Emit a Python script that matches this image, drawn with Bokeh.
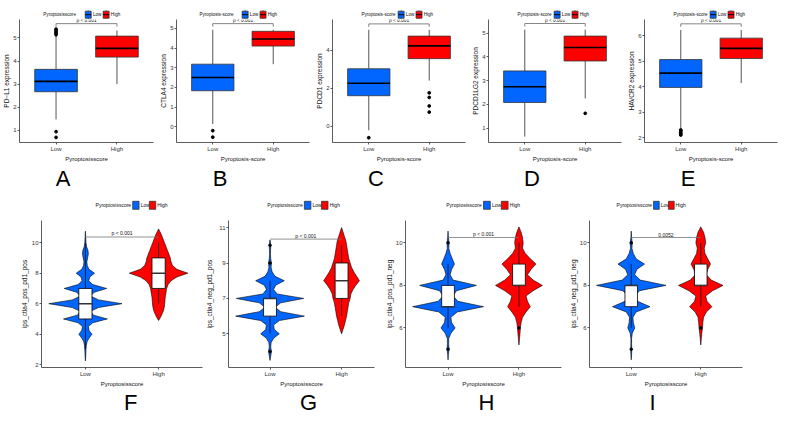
from bokeh.plotting import figure
from bokeh.layouts import row, column
from bokeh.models import FixedTicker, Range1d
from bokeh.core.properties import value
from bokeh.embed import file_html
from bokeh.resources import INLINE

FONT = "Liberation Sans"
BLUE = "#0066FF"
RED = "#FF0000"
GROUPS = ["Low", "High"]
GROUP_X = [1, 2]

# ---------------- top row: boxplots ----------------
BOX_LETTERS = ["A", "B", "C", "D", "E"]
BOX_YLABELS = ["PD\u2212L1 expression", "CTLA4 expression", "PDCD1 expression",
               "PDCD1LG2 expression", "HAVCR2 expression"]
BOX_XLABELS = ["Pyroptosisscore", "Pyroptosis-score", "Pyroptosis-score",
               "Pyroptosis-score", "Pyroptosis-score"]
BOX_YRANGES = [(0.47, 5.8), (-0.8, 5.45), (-0.84, 5.6), (0.39, 5.58), (1.81, 6.63)]
BOX_YTICKS = [[1, 2, 3, 4, 5], [0, 1, 2, 3, 4, 5], [0, 2, 4], [1, 2, 3, 4, 5], [2, 3, 4, 5, 6]]
BOX_PVALS = ["p < 0.001", "p < 0.001", "p < 0.001", "p < 0.001", "p < 0.001"]
BOX_BRACKET_Y = [5.62, 5.24, 5.37, 5.41, 6.46]
# whisker low, q1, median, q3, whisker high
BOX_LOW = [[1.47, 2.67, 3.12, 3.64, 5.10],
           [0.14, 1.83, 2.50, 3.18, 4.93],
           [-0.20, 1.61, 2.26, 3.02, 5.06],
           [0.64, 2.08, 2.74, 3.41, 5.15],
           [2.35, 3.97, 4.53, 5.06, 6.22]]
BOX_HIGH = [[3.00, 4.17, 4.55, 5.08, 5.32],
            [3.18, 4.10, 4.46, 4.85, 4.93],
            [2.40, 3.55, 4.22, 4.73, 5.06],
            [2.25, 3.83, 4.40, 4.88, 5.15],
            [4.14, 5.10, 5.50, 5.90, 6.22]]
BOX_LOW_OUT = [[0.69, 0.94, 5.14, 5.20, 5.26, 5.32, 5.38],
               [-0.20, -0.53],
               [-0.59],
               [],
               [2.10, 2.15, 2.20, 2.26, 2.30]]
BOX_HIGH_OUT = [[], [], [1.76, 1.52, 1.07, 0.75], [1.62], []]

# ---------------- bottom row: violins ----------------
VIO_LETTERS = ["F", "G", "H", "I"]
VIO_YLABELS = ["ips_ctla4_pos_pd1_pos", "ips_ctla4_neg_pd1_pos",
               "ips_ctla4_pos_pd1_neg", "ips_ctla4_neg_pd1_neg"]
VIO_XLABEL = "Pyroptosisscore"
VIO_YRANGES = [(1.82, 11.45), (3.1, 11.4), (4.14, 11.05), (4.14, 11.05)]
VIO_YTICKS = [[2, 4, 6, 8, 10], [5, 7, 9, 11], [6, 8, 10], [6, 8, 10]]
VIO_PVALS = ["p < 0.001", "p < 0.001", "p < 0.001", "0.0052"]
VIO_BRACKET_Y = [10.37, 10.35, 10.25, 10.25]

# violin density profiles (y level, half width)
F_LOW_Y = [2.25, 2.5, 3.0, 3.25, 3.5, 3.75, 4.0, 4.25, 4.5, 4.75, 5.0, 5.25, 5.5, 5.75, 6.0, 6.25, 6.5,
           6.75, 7.0, 7.25, 7.5, 7.75, 8.0, 8.25, 8.5, 8.75, 9.0, 9.25, 9.5, 9.75, 10.0, 10.4, 10.75]
F_LOW_W = [0, 0.004, 0.008, 0.012, 0.022, 0.05, 0.09, 0.05, 0.04, 0.1, 0.3, 0.11, 0.07, 0.18, 0.5, 0.18,
           0.07, 0.12, 0.29, 0.1, 0.045, 0.06, 0.125, 0.05, 0.025, 0.02, 0.03, 0.04, 0.035, 0.015, 0.008,
           0.004, 0]
F_HIGH_Y = [4.9, 5.1, 5.35, 5.6, 5.85, 6.1, 6.4, 6.7, 7.0, 7.25, 7.5, 7.75, 8.0, 8.25, 8.5, 8.75, 9.0,
            9.25, 9.5, 9.75, 10.0, 10.25, 10.5, 10.75, 10.9]
F_HIGH_W = [0, 0.025, 0.05, 0.07, 0.08, 0.085, 0.09, 0.1, 0.11, 0.13, 0.17, 0.25, 0.4, 0.25, 0.19, 0.17,
            0.16, 0.14, 0.12, 0.1, 0.08, 0.06, 0.04, 0.015, 0]
G_LOW_Y = [3.5, 3.75, 4.0, 4.25, 4.5, 4.75, 5.0, 5.25, 5.5, 5.75, 6.0, 6.25, 6.5, 6.75, 7.0, 7.25, 7.5,
           7.75, 8.0, 8.25, 8.5, 8.75, 9.0, 9.25, 9.5, 9.75, 10.0, 10.3]
G_LOW_W = [0, 0.01, 0.02, 0.01, 0.015, 0.05, 0.13, 0.06, 0.05, 0.13, 0.48, 0.15, 0.07, 0.15, 0.47, 0.1,
           0.05, 0.08, 0.2, 0.07, 0.03, 0.015, 0.02, 0.01, 0.006, 0.008, 0.012, 0]
G_HIGH_Y = [5.0, 5.25, 5.5, 5.75, 6.0, 6.25, 6.5, 6.75, 7.0, 7.25, 7.5, 7.75, 8.0, 8.25, 8.5, 8.75, 9.0,
            9.25, 9.5, 9.75, 10.0, 10.25, 10.5, 10.75, 11.0]
G_HIGH_W = [0, 0.02, 0.04, 0.055, 0.07, 0.08, 0.09, 0.1, 0.12, 0.13, 0.16, 0.2, 0.25, 0.21, 0.17, 0.14,
            0.12, 0.1, 0.09, 0.08, 0.07, 0.06, 0.04, 0.02, 0]
H_LOW_Y = [4.5, 4.75, 5.0, 5.25, 5.5, 5.75, 6.0, 6.25, 6.5, 6.75, 7.0, 7.25, 7.5, 7.75, 8.0, 8.25, 8.5,
           8.75, 9.0, 9.25, 9.5, 9.75, 10.0, 10.25, 10.55]
H_LOW_W = [0, 0.005, 0.015, 0.008, 0.01, 0.04, 0.1, 0.05, 0.04, 0.13, 0.5, 0.14, 0.07, 0.12, 0.4, 0.07,
           0.03, 0.05, 0.09, 0.06, 0.03, 0.01, 0.015, 0.005, 0]
H_HIGH_Y = [5.2, 5.5, 5.75, 6.0, 6.25, 6.5, 6.75, 7.0, 7.25, 7.5, 7.75, 8.0, 8.25, 8.5, 8.75, 9.0, 9.25,
            9.5, 9.75, 10.0, 10.25, 10.5, 10.75]
H_HIGH_W = [0, 0.008, 0.015, 0.02, 0.03, 0.05, 0.1, 0.16, 0.12, 0.1, 0.2, 0.33, 0.2, 0.12, 0.17, 0.24,
            0.16, 0.09, 0.05, 0.06, 0.05, 0.03, 0]
I_LOW_Y = [4.5, 4.75, 5.0, 5.25, 5.5, 5.75, 6.0, 6.25, 6.5, 6.75, 7.0, 7.25, 7.5, 7.75, 8.0, 8.25, 8.5,
           8.75, 9.0, 9.25, 9.5, 9.75, 10.0, 10.25, 10.55]
I_LOW_W = [0, 0.005, 0.008, 0.005, 0.005, 0.015, 0.05, 0.03, 0.025, 0.07, 0.27, 0.09, 0.05, 0.12, 0.5,
           0.13, 0.05, 0.08, 0.19, 0.07, 0.03, 0.01, 0.015, 0.005, 0]
I_HIGH_Y = [5.2, 5.5, 5.75, 6.0, 6.25, 6.5, 6.75, 7.0, 7.25, 7.5, 7.75, 8.0, 8.25, 8.5, 8.75, 9.0, 9.25,
            9.5, 9.75, 10.0, 10.25, 10.5, 10.75]
I_HIGH_W = [0, 0.008, 0.015, 0.025, 0.03, 0.04, 0.08, 0.16, 0.09, 0.07, 0.17, 0.32, 0.15, 0.08, 0.1,
            0.14, 0.1, 0.06, 0.05, 0.07, 0.06, 0.04, 0]

VIO_PROFILES = [((F_LOW_Y, F_LOW_W), (F_HIGH_Y, F_HIGH_W)),
                ((G_LOW_Y, G_LOW_W), (G_HIGH_Y, G_HIGH_W)),
                ((H_LOW_Y, H_LOW_W), (H_HIGH_Y, H_HIGH_W)),
                ((I_LOW_Y, I_LOW_W), (I_HIGH_Y, I_HIGH_W))]
# inner boxplot: whisker low, q1, median, q3, whisker high
VIO_BOX_LOW = [[3, 5, 6, 7, 10], [5, 6, 7, 7, 8], [6, 7, 7, 8, 9], [6, 7, 8, 8, 9]]
VIO_BOX_HIGH = [[6, 7, 8, 9, 10], [6, 7, 8, 9, 10], [7, 8, 8, 9, 10], [7, 8, 8, 9, 10]]
VIO_OUT_LOW = [[], [4, 9, 10], [5, 10], [5, 10]]
VIO_OUT_HIGH = [[], [], [6], [6]]

# ---------------- layout constants (pixels) ----------------
TOP_W = [157, 156, 156, 156, 156]
TOP_LEG_H, TOP_MAIN_H, TOP_LET_H = 19, 145, 26
TOP_LEFT, TOP_RIGHT, TOP_BOTTOM = 13, 4, 21
TOP_XR = (0.4, 2.6)
TOP_TITLE_CX = [34, 34, 41, 41, 41]
TOP_LEG = dict(key_x=[64, 85], cy=14.2, key=7, font="4.6px")
TOP_LETTER = dict(x=38, cy=13.5)

BOT_W = [203, 179, 184, 215]
BOT_LEG_H, BOT_MAIN_H, BOT_LET_H = 30, 169, 25
BOT_LEFT = [41, 19, 18, 16]
BOT_RIGHT = [1, 8, 5, 39]
BOT_BOTTOM = 18
BOT_XR = [(0.4, 2.6), (0.42, 2.46), (0.4, 2.6), (0.4, 2.6)]
BOT_YLAB_STANDOFF = [1, 3, 0, 0]
BOT_LEG = dict(key_x=[74, 95], cy=14.8, key=8, font="5px")
BOT_LETTER_X = [71.5, 79, 77.4, 72.5]
BOT_LETTER_CY = 12.5


def strip(width, height):
    p = figure(width=width, height=height, x_range=Range1d(0, width), y_range=Range1d(0, height),
               x_axis_type=None, y_axis_type=None, output_backend="svg", toolbar_location=None,
               min_border=0)
    p.outline_line_color = None
    p.background_fill_color = "white"
    p.border_fill_color = "white"
    return p


def style_axes(p, xlabel, ylabel, yticks, ylab_standoff):
    p.outline_line_color = None
    p.xgrid.visible = False
    p.ygrid.visible = False
    p.background_fill_color = "white"
    p.border_fill_color = "white"
    p.xaxis.ticker = FixedTicker(ticks=GROUP_X)
    p.xaxis.major_label_overrides = {gx: g for gx, g in zip(GROUP_X, GROUPS)}
    p.yaxis.ticker = FixedTicker(ticks=yticks)
    p.xaxis.axis_label = xlabel
    p.yaxis.axis_label = ylabel
    for ax in (p.xaxis[0], p.yaxis[0]):
        ax.axis_line_color = "#333333"
        ax.axis_line_width = 0.8
        ax.major_tick_line_color = "#333333"
        ax.major_tick_line_width = 0.8
        ax.major_tick_out = 2
        ax.major_tick_in = 0
        ax.minor_tick_line_color = None
        ax.major_label_text_font = FONT
        ax.major_label_text_font_size = "6px"
        ax.major_label_text_color = "#333333"
        ax.major_label_standoff = 1
        ax.axis_label_text_font = FONT
        ax.axis_label_text_font_style = "normal"
        ax.axis_label_text_color = "#111111"
        ax.axis_label_standoff = 1
    p.xaxis.axis_label_text_font_size = "6px"
    p.yaxis.axis_label_text_font_size = "6.5px"
    p.yaxis.axis_label_standoff = ylab_standoff


def legend_strip(width, height, left, title, title_x, title_align, spec, boxkey):
    p = strip(width, height)
    cy = height - spec["cy"]
    k = spec["key"]
    p.text(x=[left + title_x], y=[cy], text=[title], text_font=value(FONT),
           text_font_size=spec["font"], text_baseline="middle", text_align=title_align,
           text_color="#111111")
    for g, kx, col in zip(GROUPS, spec["key_x"], [BLUE, RED]):
        x0 = left + kx
        if boxkey:
            p.segment(x0=[x0 + k / 2], x1=[x0 + k / 2], y0=[cy - k / 2 - 1], y1=[cy + k / 2 + 1],
                      line_color="#555555", line_width=0.8)
        p.rect(x=[x0 + k / 2], y=[cy], width=k, height=k, fill_color=col,
               line_color="#333333", line_width=0.8)
        if boxkey:
            p.segment(x0=[x0], x1=[x0 + k], y0=[cy], y1=[cy], line_color="black", line_width=1)
        p.text(x=[x0 + k + 2], y=[cy], text=[g], text_font=value(FONT),
               text_font_size=spec["font"], text_baseline="middle", text_align="left",
               text_color="#111111")
    return p


def letter_strip(width, height, letter, x, cy):
    p = strip(width, height)
    p.text(x=[x], y=[height - cy], text=[letter], text_font=value(FONT), text_font_size="22px",
           text_baseline="middle", text_align="center", text_color="black")
    return p


def box_panel(i):
    w = TOP_W[i]
    fh = TOP_MAIN_H - TOP_BOTTOM
    p = figure(width=w, height=TOP_MAIN_H, x_range=Range1d(*TOP_XR),
               y_range=Range1d(*BOX_YRANGES[i]), output_backend="svg", toolbar_location=None,
               min_border_left=TOP_LEFT, min_border_right=TOP_RIGHT,
               min_border_top=0, min_border_bottom=TOP_BOTTOM)
    style_axes(p, BOX_XLABELS[i], BOX_YLABELS[i], BOX_YTICKS[i], 0)
    bw = 0.7
    for gx, stats, outs, col in zip(GROUP_X, [BOX_LOW[i], BOX_HIGH[i]],
                                    [BOX_LOW_OUT[i], BOX_HIGH_OUT[i]], [BLUE, RED]):
        wl, q1, med, q3, wh = stats
        p.segment(x0=[gx, gx], y0=[q3, q1], x1=[gx, gx], y1=[wh, wl],
                  line_color="#555555", line_width=1)
        p.vbar(x=[gx], bottom=[q1], top=[q3], width=bw, fill_color=col,
               line_color="#333333", line_width=0.8)
        p.segment(x0=[gx - bw / 2], x1=[gx + bw / 2], y0=[med], y1=[med],
                  line_color="black", line_width=1.6)
        if outs:
            p.scatter(x=[gx] * len(outs), y=outs, size=2.8, color="black")
    yb = BOX_BRACKET_Y[i]
    y0, y1 = BOX_YRANGES[i]
    d = 3 * (y1 - y0) / fh
    p.multi_line(xs=[[GROUP_X[0], GROUP_X[0], GROUP_X[1], GROUP_X[1]]],
                 ys=[[yb - d, yb, yb, yb - d]], line_color="#666666", line_width=0.8)
    p.text(x=[sum(GROUP_X) / 2], y=[yb], text=[BOX_PVALS[i]], text_align="center",
           text_baseline="bottom", text_font=value(FONT), text_font_size="4.8px",
           text_color="#111111", y_offset=-0.5)
    leg = legend_strip(w, TOP_LEG_H, TOP_LEFT, BOX_XLABELS[i], TOP_TITLE_CX[i], "center",
                       TOP_LEG, True)
    let = letter_strip(w, TOP_LET_H, BOX_LETTERS[i], TOP_LEFT + TOP_LETTER["x"], TOP_LETTER["cy"])
    return column(leg, p, let, spacing=0)


def violin_panel(j):
    w = BOT_W[j]
    p = figure(width=w, height=BOT_MAIN_H, x_range=Range1d(*BOT_XR[j]),
               y_range=Range1d(*VIO_YRANGES[j]), output_backend="svg", toolbar_location=None,
               min_border_left=BOT_LEFT[j], min_border_right=BOT_RIGHT[j],
               min_border_top=0, min_border_bottom=BOT_BOTTOM)
    style_axes(p, VIO_XLABEL, VIO_YLABELS[j], VIO_YTICKS[j], BOT_YLAB_STANDOFF[j])
    bw = 0.18
    for gx, (ys, ws), stats, outs, col in zip(GROUP_X, VIO_PROFILES[j],
                                              [VIO_BOX_LOW[j], VIO_BOX_HIGH[j]],
                                              [VIO_OUT_LOW[j], VIO_OUT_HIGH[j]], [BLUE, RED]):
        xs = [gx + hw for hw in ws] + [gx - hw for hw in reversed(ws)]
        yy = list(ys) + list(reversed(ys))
        p.patch(x=xs, y=yy, fill_color=col, line_color="black", line_width=0.6)
        wl, q1, med, q3, wh = stats
        p.segment(x0=[gx], x1=[gx], y0=[wl], y1=[wh], line_color="black", line_width=0.7)
        p.vbar(x=[gx], bottom=[q1], top=[q3], width=bw, fill_color="white",
               line_color="black", line_width=0.8)
        p.segment(x0=[gx - bw / 2], x1=[gx + bw / 2], y0=[med], y1=[med],
                  line_color="#333333", line_width=1.5)
        if outs:
            p.scatter(x=[gx] * len(outs), y=outs, size=2.5, color="black")
    yb = VIO_BRACKET_Y[j]
    p.segment(x0=[GROUP_X[0]], x1=[GROUP_X[1]], y0=[yb], y1=[yb], line_color="#777777",
              line_width=0.8)
    p.text(x=[sum(GROUP_X) / 2], y=[yb], text=[VIO_PVALS[j]], text_align="center",
           text_baseline="bottom", text_font=value(FONT), text_font_size="5px",
           text_color="#111111", y_offset=-0.5)
    leg = legend_strip(w, BOT_LEG_H, BOT_LEFT[j], VIO_XLABEL, BOT_LEG["key_x"][0] - 2, "right",
                       BOT_LEG, False)
    let = letter_strip(w, BOT_LET_H, VIO_LETTERS[j], BOT_LEFT[j] + BOT_LETTER_X[j], BOT_LETTER_CY)
    return column(leg, p, let, spacing=0)


top = row(*[box_panel(i) for i in range(5)], spacing=0)
bottom = row(*[violin_panel(j) for j in range(4)], spacing=0)
layout = column(top, bottom, spacing=0)

open("out.html", "w").write(file_html(layout, INLINE))
